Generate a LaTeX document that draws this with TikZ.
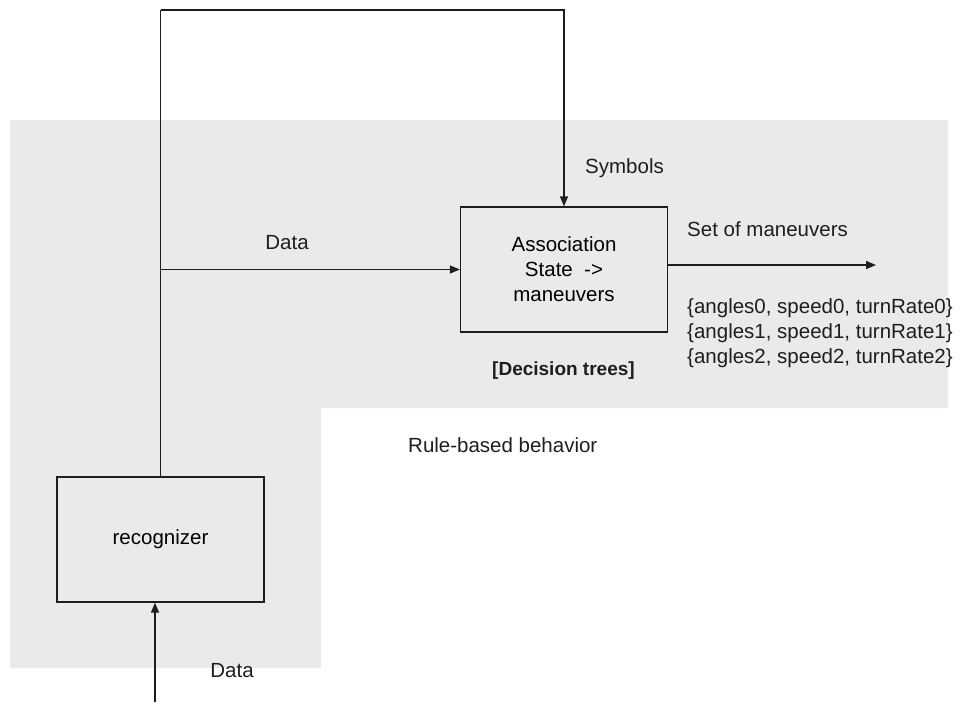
\documentclass[tikz,border=0pt]{standalone}
\usepackage{fontspec}
\setmainfont{Liberation Sans}
\usetikzlibrary{arrows.meta}
\definecolor{panel}{RGB}{234,234,234}
\definecolor{ink}{RGB}{30,30,30}
\tikzset{
  block/.style={draw=ink, line width=1.3pt, rectangle, inner sep=0pt,
    minimum width=207pt, minimum height=125pt, align=center,
    font=\fontsize{20.5}{25}\selectfont},
  wire/.style={draw=ink, line width=1.3pt},
  flow/.style={wire, -{Triangle[length=10pt,width=8pt]}},
  label/.style={inner sep=0pt, font=\fontsize{20.5}{25}\selectfont, text=ink}
}
\begin{document}
\begin{tikzpicture}[x=1pt,y=-1pt]
  \useasboundingbox (0,0) rectangle (963,702);
  % rule-based region
  \fill[panel] (10,120) -- (948,120) -- (948,408) -- (321,408) -- (321,668) -- (10,668) -- cycle;

  % blocks
  \node[block] (assoc) at (564,269.5) {Association\\State~ ->\\maneuvers};
  \node[block] (recog) at (160.5,539.5) {recognizer};

  % free ends and junctions, aligned with the recognizer's top
  \coordinate (topbar) at (recog.north |- 0,10);
  \coordinate (split) at (recog.north |- assoc.west);
  \coordinate (outend) at (876,265);
  \coordinate (inend) at (155,702);

  % connectors
  \draw[wire] (recog.north) -- (topbar);
  \draw[flow] (topbar) -- (topbar -| assoc.north) -- (assoc.north);
  \draw[flow] (split) -- (assoc.west);
  \draw[flow] (assoc.east |- outend) -- (outend);
  \draw[flow] (inend) -- (inend |- recog.south);

  % labels
  \node[label, anchor=base west] (symbols) at (585,173) {Symbols};
  \node[label, anchor=base] (datatop) at (287,249) {Data};
  \node[label, anchor=base west] (setman) at (687,236) {Set of maneuvers};
  \node[label, anchor=base west] (man0) at (687,313) {\{angles0, speed0, turnRate0\}};
  \node[label, anchor=base west] (man1) at (687,338) {\{angles1, speed1, turnRate1\}};
  \node[label, anchor=base west] (man2) at (687,363) {\{angles2, speed2, turnRate2\}};
  \node[label, anchor=base west, font=\fontsize{19}{25}\selectfont\bfseries] (dtrees) at (492,375) {[Decision trees]};
  \node[label, anchor=base west] (rules) at (408,452) {Rule-based behavior};
  \node[label, anchor=base] (databot) at (232,677) {Data};
\end{tikzpicture}
\end{document}
